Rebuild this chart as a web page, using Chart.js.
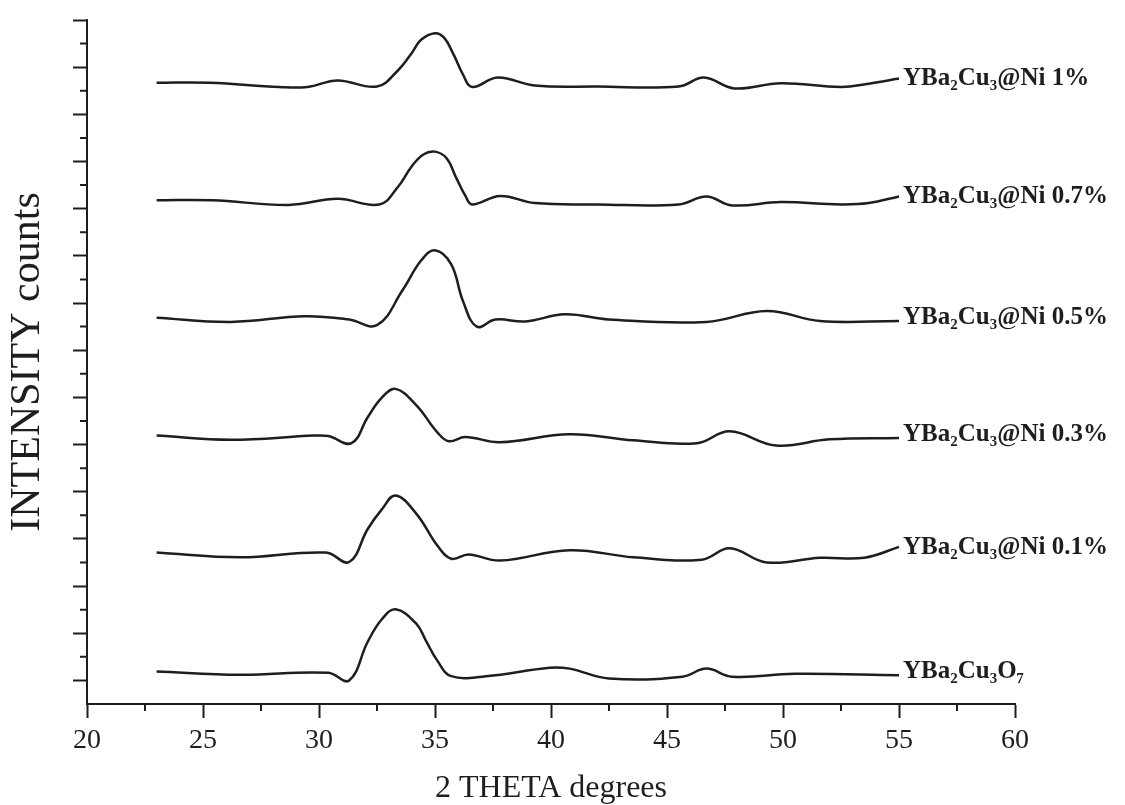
<!DOCTYPE html>
<html>
<head>
<meta charset="utf-8">
<script src="https://cdn.jsdelivr.net/npm/chart.js@4.4.0/dist/chart.umd.min.js"></script>
<style>
html, body { margin: 0; padding: 0; background: #fff; }
#wrap { width: 1125px; height: 805px; }
</style>
</head>
<body>
<div id="wrap"><canvas id="xrd"></canvas></div>
<script>
// XRD patterns, stacked one above the other (2 theta in degrees)
var sampleNames = ['YBa₂Cu₃@Ni 1%', 'YBa₂Cu₃@Ni 0.7%', 'YBa₂Cu₃@Ni 0.5%',
                   'YBa₂Cu₃@Ni 0.3%', 'YBa₂Cu₃@Ni 0.1%', 'YBa₂Cu₃O₇'];

var theta1 = [23, 25.3, 28.3, 29.5, 30.8, 32.5, 33.4, 34.0, 34.4, 35.0, 35.4, 35.8, 36.2, 36.6, 37.7, 39.3, 42, 45.5, 46.6, 47.9, 49.9, 52.5, 53.7, 55];
var counts1 = [12.67, 12.67, 12.58, 12.58, 12.72, 12.59, 12.93, 13.30, 13.58, 13.72, 13.62, 13.27, 12.85, 12.58, 12.78, 12.61, 12.59, 12.59, 12.78, 12.55, 12.66, 12.58, 12.65, 12.76];

var theta07 = [23, 25.4, 28.7, 30.8, 32.6, 33.4, 34.0, 34.5, 35.0, 35.5, 35.9, 36.3, 36.6, 37.8, 39.3, 42, 45.5, 46.7, 47.8, 49.9, 52.5, 53.7, 55];
var counts07 = [10.18, 10.18, 10.08, 10.21, 10.09, 10.46, 10.90, 11.15, 11.21, 11.07, 10.67, 10.28, 10.09, 10.27, 10.12, 10.09, 10.09, 10.26, 10.07, 10.14, 10.09, 10.12, 10.26];

var theta05 = [23, 26.2, 29.4, 31.3, 32.5, 33.6, 34.4, 35.0, 35.7, 36.2, 36.8, 37.6, 38.9, 40.6, 42.5, 46.7, 49.3, 51.6, 55];
var counts05 = [7.69, 7.60, 7.72, 7.65, 7.53, 8.27, 8.90, 9.12, 8.82, 8.05, 7.50, 7.65, 7.61, 7.76, 7.65, 7.60, 7.83, 7.62, 7.62];

var theta03 = [23, 26.2, 29.8, 30.4, 31.4, 32.1, 32.7, 33.3, 34.2, 35.1, 35.6, 36.3, 37.8, 40.8, 43.55, 46.3, 47.7, 49.7, 52.0, 55];
var counts03 = [5.19, 5.10, 5.19, 5.18, 5.03, 5.58, 5.99, 6.18, 5.83, 5.26, 5.07, 5.16, 5.05, 5.22, 5.09, 5.03, 5.28, 4.98, 5.11, 5.14];

var theta01 = [23, 26.6, 30.3, 31.3, 32.1, 32.7, 33.3, 34.2, 35.1, 35.7, 36.45, 37.8, 40.8, 43.55, 46.5, 47.7, 49.3, 51.6, 53.5, 55];
var counts01 = [2.71, 2.61, 2.71, 2.51, 3.21, 3.62, 3.92, 3.53, 2.86, 2.58, 2.67, 2.54, 2.76, 2.61, 2.56, 2.80, 2.50, 2.60, 2.60, 2.83];

var theta0 = [23, 26.6, 30.4, 31.3, 32.1, 32.7, 33.3, 34.2, 34.6, 35.1, 35.7, 37.2, 39.95, 40.8, 42.5, 45.67, 46.7, 47.8, 50.5, 55];
var counts0 = [0.19, 0.12, 0.16, 0.00, 0.82, 1.29, 1.51, 1.20, 0.85, 0.42, 0.09, 0.09, 0.27, 0.25, 0.04, 0.08, 0.25, 0.08, 0.14, 0.11];

var allTheta = [theta1, theta07, theta05, theta03, theta01, theta0];
var allCounts = [counts1, counts07, counts05, counts03, counts01, counts0];

var ink = '#1e1e1e';
var serif = '"Liberation Serif", "Times New Roman", serif';

var datasets = sampleNames.map(function(name, i) {
    return {
        label: name,
        data: allTheta[i].map(function(t, j) { return { x: t, y: allCounts[i][j] }; }),
        borderColor: ink,
        borderWidth: 2.5,
        pointRadius: 0,
        fill: false,
        tension: 0.4
    };
});

// short ticks between the long ones
const minorTicks = {
    id: 'minorTicks',
    afterDraw(chart) {
        const ctx = chart.ctx;
        const x = chart.scales.x, y = chart.scales.y;
        ctx.save();
        ctx.strokeStyle = ink;
        ctx.lineWidth = 2;
        ctx.beginPath();
        x.ticks.forEach(t => {
            if (t.value % 5 !== 0) {
                const px = x.getPixelForValue(t.value);
                ctx.moveTo(px, x.top);
                ctx.lineTo(px, x.top + 7);
            }
        });
        y.ticks.forEach(t => {
            if (!Number.isInteger(t.value) && t.value > y.min) {
                const py = y.getPixelForValue(t.value);
                ctx.moveTo(y.right, py);
                ctx.lineTo(y.right - 7, py);
            }
        });
        ctx.stroke();
        ctx.restore();
    }
};

// sample name written at the end of each pattern
const curveLabels = {
    id: 'curveLabels',
    afterDatasetsDraw(chart) {
        const ctx = chart.ctx;
        ctx.save();
        ctx.font = 'bold 25px ' + serif;
        ctx.fillStyle = ink;
        ctx.textBaseline = 'middle';
        chart.data.datasets.forEach((ds, i) => {
            const pts = chart.getDatasetMeta(i).data;
            const first = pts[0], last = pts[pts.length - 1];
            ctx.fillText(ds.label, last.x + 4, (first.y + last.y) / 2 - 2);
        });
        ctx.restore();
    }
};

new Chart('xrd', {
    type: 'line',
    data: { datasets: datasets },
    plugins: [minorTicks, curveLabels],
    options: {
        responsive: true,
        maintainAspectRatio: false,
        animation: false,
        layout: { padding: { top: 20, right: 110, left: 0, bottom: 0 } },
        plugins: { legend: { display: false }, tooltip: { enabled: false } },
        scales: {
            x: {
                type: 'linear',
                min: 20,
                max: 60,
                afterFit: s => { s.height = 101; },
                border: { display: true, color: ink, width: 2 },
                grid: {
                    drawOnChartArea: false,
                    tickLength: 14,
                    tickWidth: 2,
                    tickColor: c => c.tick && c.tick.value % 5 === 0 ? ink : 'rgba(0,0,0,0)'
                },
                ticks: {
                    stepSize: 2.5,
                    autoSkip: false,
                    maxRotation: 0,
                    padding: 6,
                    color: ink,
                    font: { family: serif, size: 28 },
                    callback: v => v % 5 === 0 ? v : ''
                },
                title: {
                    display: true,
                    text: '2 THETA degrees',
                    color: ink,
                    font: { family: serif, size: 32, lineHeight: 1 },
                    padding: { top: 0, bottom: 0 }
                }
            },
            y: {
                min: -0.5,
                max: 14,
                afterFit: s => { s.width = 87; },
                border: { display: true, color: ink, width: 2 },
                grid: {
                    drawOnChartArea: false,
                    tickLength: 14,
                    tickWidth: 2,
                    tickColor: c => c.tick && Number.isInteger(c.tick.value) ? ink : 'rgba(0,0,0,0)'
                },
                ticks: { stepSize: 0.5, display: false },
                title: {
                    display: true,
                    text: 'INTENSITY counts',
                    color: ink,
                    font: { family: serif, size: 42 },
                    padding: { top: 3, bottom: 0 }
                }
            }
        }
    }
});
</script>
</body>
</html>
